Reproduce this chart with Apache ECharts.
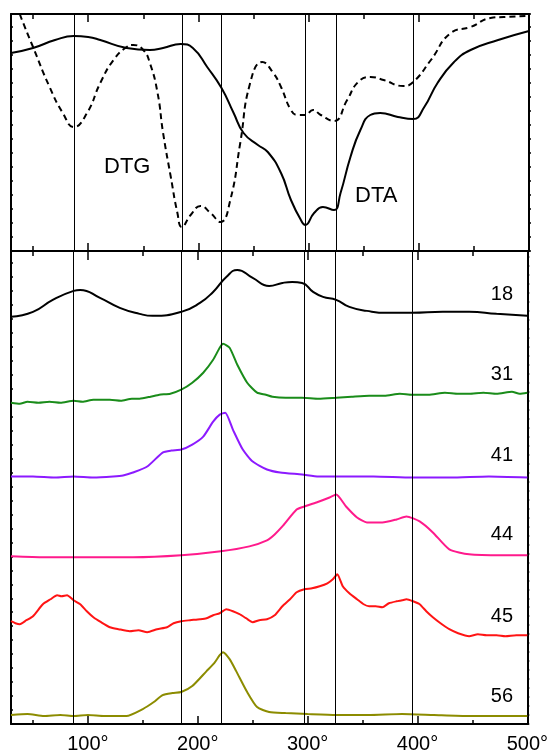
<!DOCTYPE html>
<html><head><meta charset="utf-8">
<script src="https://cdn.jsdelivr.net/npm/echarts@6/dist/echarts.min.js"></script>
<style>html,body{margin:0;padding:0;background:#fff}#c{width:551px;height:754px}</style>
</head><body><div id="c"></div>
<script>
// ---------- data ----------
const xMin = 30, xMax = 500;
const majorTicks = [100, 200, 300, 400, 500];
const minorTicks = [50, 150, 250, 350, 450];
const tickLabels = ['100°', '200°', '300°', '400°', '500°'];
const refLines = [87, 185, 221, 297, 325, 395];

// top panel (arbitrary units)
const dta = [[30,198],[50,203],[70,211],[87,215],[100,214],[111,211],[135,203],[156,201],[168,203],[184,207],[195,203],[208,184],[221,163],[232,138],[241,118],[254,106],[263,99],[275,78],[284,51],[293,31],[297,26],[305,38],[313,44],[323,41],[329,58],[338,94],[347,121],[356,136],[365,138],[381,134],[395,132],[405,144],[417,168],[432,189],[447,201],[472,211],[500,220]];
const dtg = [[38,237],[40,231],[50,204],[65,164],[77,138],[87,124],[99,138],[111,168],[123,191],[135,204],[141,206],[150,201],[156,188],[163,158],[168,118],[175,74],[181,38],[185,24],[193,36],[202,45],[211,38],[220,29],[229,51],[238,108],[247,168],[258,189],[268,178],[275,164],[284,141],[290,136],[297,136],[304,141],[311,136],[323,130],[335,151],[345,169],[356,174],[368,171],[386,165],[395,169],[411,191],[429,218],[447,224],[465,233],[477,234],[500,235]];

// bottom panel (arbitrary units, stacked traces)
const s18 = [[30,408],[50,413],[68,425],[87,434],[93,435],[111,427],[129,417],[147,411],[159,409],[185,413],[202,422],[214,433],[226,448],[236,455],[250,447],[265,439],[277,442],[286,443],[295,442],[305,433],[314,428],[326,425],[338,418],[354,414],[372,412],[395,412],[423,413],[447,413],[472,411],[500,409]];
const s31 = [[30,322],[38,321],[45,323],[55,322],[65,323],[75,322],[87,324],[95,323],[105,325],[120,325],[130,324],[140,326],[147,326],[157,328],[165,330],[175,331],[185,335],[195,342],[205,352],[214,365],[220,377],[223,381],[229,377],[236,360],[245,342],[254,332],[262,330],[268,328],[280,327],[295,327],[310,326],[326,327],[340,328],[356,329],[370,329],[384,331],[395,330],[410,330],[425,332],[437,331],[447,331],[460,332],[472,331],[486,333],[493,331],[500,332]];
const s41 = [[30,248],[50,248],[70,247],[87,248],[105,247],[123,248],[132,249],[141,252],[154,258],[168,272],[176,274],[185,275],[195,280],[205,288],[214,303],[220,310],[225,312],[232,295],[241,275],[250,263],[263,255],[275,252],[295,250],[310,248],[326,248],[360,248],[395,247],[430,247],[465,248],[500,247]];
const s44 = [[30,168],[60,167],[87,167],[141,167],[185,169],[221,173],[247,178],[263,184],[270,190],[277,198],[290,215],[297,218],[308,222],[320,227],[326,230],[335,218],[345,207],[354,202],[368,202],[381,205],[390,208],[402,203],[414,192],[429,175],[447,170],[477,169],[500,169]];
const s45 = [[30,103],[34,101],[38,100],[44,104],[50,108],[59,120],[66,125],[72,129],[76,128],[81,129],[87,124],[93,120],[99,113],[105,107],[112,102],[120,97],[128,95],[138,93],[146,94],[154,92],[163,95],[172,97],[178,101],[185,103],[193,104],[202,105],[208,106],[214,109],[220,111],[226,115],[232,113],[238,110],[244,106],[250,102],[256,104],[263,105],[270,109],[277,118],[284,125],[290,132],[297,135],[304,136],[311,138],[318,141],[323,145],[327,150],[332,138],[338,131],[345,125],[351,120],[356,118],[362,118],[368,117],[374,121],[381,123],[386,124],[390,125],[396,123],[402,120],[408,113],[414,107],[421,101],[429,95],[437,91],[447,88],[455,90],[463,89],[472,89],[480,88],[490,89],[500,89]];
const s56 = [[30,9],[45,10],[60,8],[75,9],[87,8],[100,9],[115,8],[135,8],[150,15],[160,22],[168,29],[177,31],[185,32],[195,38],[208,53],[215,61],[220,69],[223,72],[229,65],[235,53],[245,32],[254,17],[265,12],[280,11],[300,10],[326,9],[355,9],[386,10],[415,9],[447,8],[475,8],[500,8]];

const traceNames = ['18', '31', '41', '44', '45', '56'];
const traceColors = ['#000000', '#1a8c1a', '#8c1aff', '#ff1a8c', '#ff1414', '#8c8c00'];
const traceData = [s18, s31, s41, s44, s45, s56];

// ---------- chart ----------
const chart = echarts.init(document.getElementById('c'), null, {renderer: 'canvas'});
const FONT = "'Liberation Sans', Arial, sans-serif";

function xAx(grid, pos, ticks, len, showLine, labels) {
  return {
    type: 'value', gridIndex: grid, position: pos, min: xMin, max: xMax,
    axisLine: {show: showLine, onZero: false, lineStyle: {color: '#000', width: 2}},
    axisTick: {show: true, inside: true, length: len, customValues: ticks, lineStyle: {color: '#000', width: 1.5}},
    axisLabel: labels ? {show: true, customValues: majorTicks, formatter: v => tickLabels[majorTicks.indexOf(v)] || '', color: '#000', fontSize: 20, fontFamily: FONT, margin: 10} : {show: false},
    splitLine: {show: false}
  };
}
function yAx(grid, pos, max, interval, inside) {
  return {
    type: 'value', gridIndex: grid, position: pos, min: 0, max: max, interval: interval,
    axisLine: {show: true, lineStyle: {color: '#000', width: 2}},
    axisTick: {show: true, inside: inside, length: 2, lineStyle: {color: '#000', width: 1.5}},
    axisLabel: {show: false}, splitLine: {show: false}
  };
}

const vMark = {
  silent: true, symbol: 'none', label: {show: false},
  lineStyle: {color: '#000', width: 1, type: 'solid'},
  data: refLines.map(v => ({xAxis: v}))
};

const series = [
  {type: 'line', name: 'DTA', xAxisIndex: 0, yAxisIndex: 0, data: dta, showSymbol: false, smooth: 0.5,
   lineStyle: {color: '#000', width: 2}, markLine: vMark, z: 3},
  {type: 'line', name: 'DTG', xAxisIndex: 0, yAxisIndex: 0, data: dtg, showSymbol: false, smooth: 0.5,
   lineStyle: {color: '#000', width: 2, type: [6, 4]}, z: 3}
];
traceData.forEach((d, i) => {
  const s = {type: 'line', name: traceNames[i], xAxisIndex: 4, yAxisIndex: 2, data: d, showSymbol: false,
    smooth: i === 0 ? 0.5 : 0.2, lineStyle: {color: traceColors[i], width: 2}, z: 3};
  if (i === 0) s.markLine = vMark;
  series.push(s);
});

const labelY = [295, 375, 456, 535, 617, 697];
const graphics = traceNames.map((t, i) => ({
  type: 'text', right: 551 - 513, top: labelY[i] - 11,
  style: {text: t, fill: '#000', font: '20px ' + FONT}
}));
graphics.push({type: 'text', left: 104, top: 156, style: {text: 'DTG', fill: '#000', font: '22px ' + FONT}});
graphics.push({type: 'text', left: 355, top: 185, style: {text: 'DTA', fill: '#000', font: '22px ' + FONT}});

chart.setOption({
  animation: false,
  backgroundColor: '#fff',
  grid: [
    {left: 11, right: 22, top: 14, height: 237},
    {left: 11, right: 22, top: 251, height: 474}
  ],
  xAxis: [
    xAx(0, 'top', majorTicks, 8, true, false),
    xAx(0, 'top', minorTicks, 5, false, false),
    xAx(0, 'bottom', majorTicks, 8, true, false),
    xAx(0, 'bottom', minorTicks, 5, false, false),
    xAx(1, 'top', majorTicks, 9, true, false),
    xAx(1, 'top', minorTicks, 5, false, false),
    xAx(1, 'bottom', majorTicks, 8, true, true),
    xAx(1, 'bottom', minorTicks, 4, false, false)
  ],
  yAxis: [
    yAx(0, 'left', 237, 14, true),
    yAx(0, 'right', 237, 14, false),
    yAx(1, 'left', 474, 14, true),
    yAx(1, 'right', 474, 9, false)
  ],
  series: series,
  graphic: graphics
});
</script></body></html>
